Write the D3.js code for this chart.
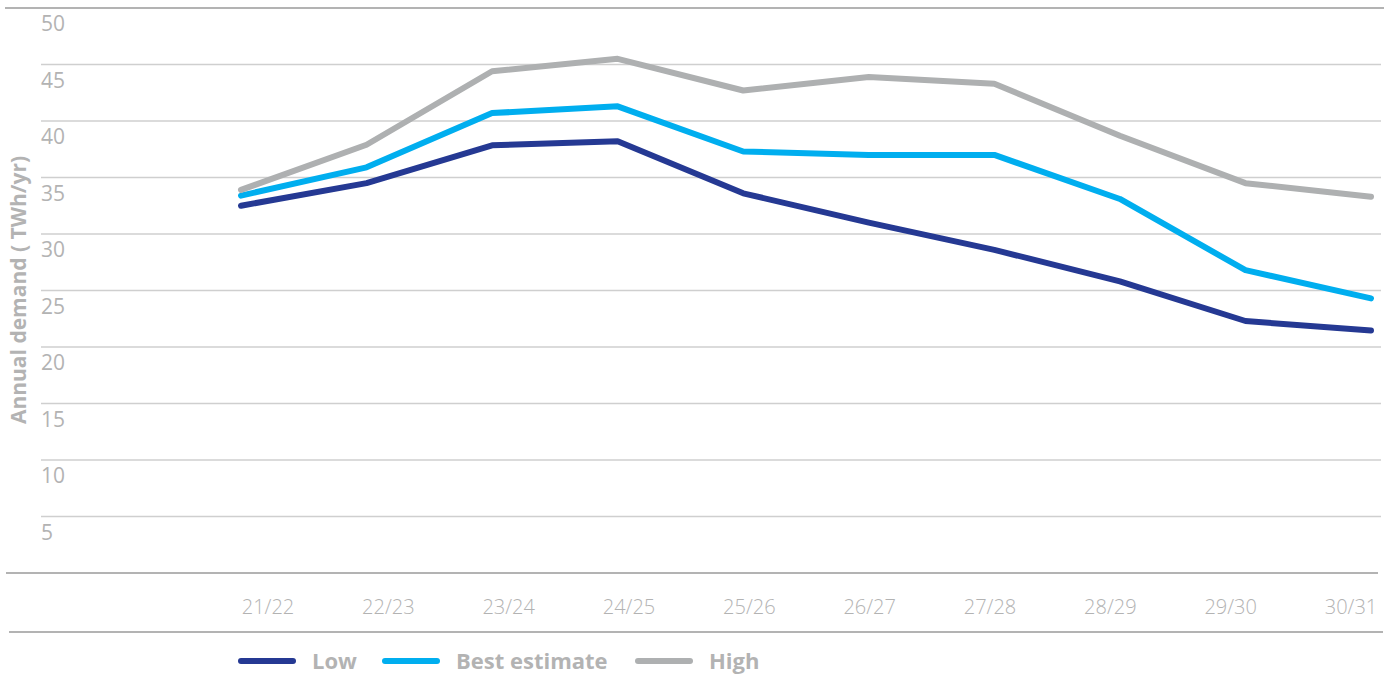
<!DOCTYPE html>
<html><head><meta charset="utf-8">
<script src="https://cdn.jsdelivr.net/npm/d3@7"></script>
<style>
body{margin:0;background:#fff;}
svg{display:block;font-family:"Open Sans",sans-serif;}
</style></head>
<body>
<svg id="chart" width="1394" height="677"></svg>
<script>
const categories = ["21/22","22/23","23/24","24/25","25/26","26/27","27/28","28/29","29/30","30/31"];
const lowValues  = [32.5, 34.5, 37.85, 38.2, 33.6, 31.0, 28.6, 25.8, 22.3, 21.45];
const bestValues = [33.4, 35.9, 40.7, 41.3, 37.3, 37.0, 37.0, 33.1, 26.8, 24.3];
const highValues = [33.9, 37.9, 44.4, 45.5, 42.7, 43.9, 43.3, 38.7, 34.5, 33.3];
const yTicks = [5,10,15,20,25,30,35,40,45,50];
const seriesNames = ["Low","Best estimate","High"];
const seriesColors = ["#253993","#00aeef","#aeb0b1"];

const series = [
  {name: seriesNames[0], color: seriesColors[0], values: lowValues},
  {name: seriesNames[1], color: seriesColors[1], values: bestValues},
  {name: seriesNames[2], color: seriesColors[2], values: highValues}
];

const svg = d3.select("#chart");
const y = d3.scaleLinear().domain([0,50]).range([573,8]);
const x = d3.scalePoint().domain(categories).range([241,1371]);
const xLab = d3.scalePoint().domain(categories).range([268,1351]);

// gridlines
svg.append("g").selectAll("line").data(yTicks.filter(d=>d<50)).join("line")
  .attr("x1",41).attr("x2",1381)
  .attr("y1",d=>y(d)).attr("y2",d=>y(d))
  .attr("stroke","#cfcfcf").attr("stroke-width",1.3);
// top line
svg.append("line").attr("x1",5).attr("x2",1384).attr("y1",y(50)).attr("y2",y(50))
  .attr("stroke","#b3b3b3").attr("stroke-width",2);
// zero line
svg.append("line").attr("x1",6).attr("x2",1378).attr("y1",y(0)).attr("y2",y(0))
  .attr("stroke","#b3b3b3").attr("stroke-width",2);
// bottom line
svg.append("line").attr("x1",9).attr("x2",1383).attr("y1",632).attr("y2",632)
  .attr("stroke","#b3b3b3").attr("stroke-width",2);

// y labels
svg.append("g").selectAll("text").data(yTicks).join("text")
  .attr("x",41).attr("y",d=>y(d)+23)
  .attr("fill","#b3b3b3").attr("font-size",21).attr("font-weight",400)
  .text(d=>d);

// x labels
svg.append("g").selectAll("text").data(categories).join("text")
  .attr("x",d=>xLab(d)).attr("y",614)
  .attr("text-anchor","middle")
  .attr("fill","#b3b3b3").attr("font-size",20).attr("font-weight",300)
  .text(d=>d);

// y-axis title
svg.append("text")
  .attr("transform","translate(26,290) rotate(-90)")
  .attr("text-anchor","middle")
  .attr("fill","#b3b3b3").attr("font-size",21).attr("font-weight",700)
  .text("Annual demand ( TWh/yr)");

// lines
const line = d3.line().x((d,i)=>x(categories[i])).y(d=>y(d));
svg.append("g").selectAll("path").data(series).join("path")
  .attr("d",d=>line(d.values))
  .attr("fill","none").attr("stroke",d=>d.color)
  .attr("stroke-width",6).attr("stroke-linecap","round").attr("stroke-linejoin","round");

// legend
const legendX = [241,385,638];
const lg = svg.append("g").selectAll("g").data(series).join("g")
  .attr("transform",(d,i)=>`translate(${legendX[i]},661)`);
lg.append("line").attr("x1",0).attr("x2",52).attr("y1",0).attr("y2",0)
  .attr("stroke",d=>d.color).attr("stroke-width",6).attr("stroke-linecap","round");
lg.append("text").attr("x",71).attr("y",8)
  .attr("fill","#b3b3b3").attr("font-size",22).attr("font-weight",700)
  .text(d=>d.name);
</script>
</body></html>
